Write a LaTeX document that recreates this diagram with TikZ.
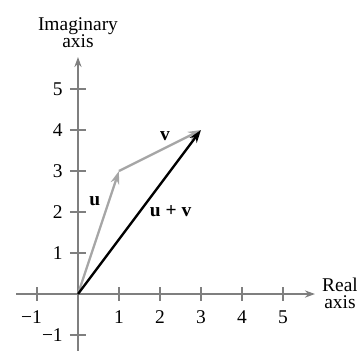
\documentclass[tikz,border=0pt]{standalone}
\usepackage{fontspec}
\setmainfont{Liberation Serif}
\usepackage{xcolor}
\usetikzlibrary{arrows.meta,positioning}
\definecolor{axisgray}{HTML}{7F7F7F}
\definecolor{vecgray}{HTML}{A6A6A6}
\tikzset{
  plane/.style={font=\fontsize{13.5}{14}\selectfont},
  axisline/.style={-{Stealth[length=7pt,width=5pt]}, axisgray, line width=1pt},
  tick/.style={axisgray, line width=1pt},
  vecpart/.style={-{Stealth[length=9pt,width=6pt]}, vecgray, line width=1.6pt},
  vecsum/.style={-{Stealth[length=9pt,width=6pt]}, black, line width=1.6pt},
  lbl/.style={inner sep=1pt, text=black}
}

\begin{document}
\begin{tikzpicture}[plane]
\useasboundingbox (-1.902,-1.366) rectangle (6.805,7.171);
\coordinate (O) at (0,0);
\coordinate (U) at (1,3);
\coordinate (S) at (3,4);
\draw[axisline] (-1.51,0) -- (5.78,0) coordinate (xend);
\draw[axisline] (0,-1.4) -- (0,5.78) coordinate (yend);
\foreach \x/\t in {-1/\llap{−}1,1/1,2/2,3/3,4/4,5/5} {
  \draw[tick] (\x,-0.17) -- (\x,0.17);
  \node[lbl] (xl\x) at (\x,-0.56) {\t};
}
\foreach \y/\t in {-1/−1,1/1,2/2,3/3,4/4,5/5} {
  \draw[tick] (-0.2,\y) -- (0.2,\y);
  \node[lbl, anchor=east] (yl\y) at (-0.33,\y) {\t};
}
\node[align=center, inner sep=0pt] (ylab) at (0,6.38) {Imaginary\\[-2pt]axis};
\node[align=center, inner sep=0pt] (xlab) at (6.39,0.02) {Real\\[-2pt]axis};
\draw[vecpart] (O) -- (U);
\draw[vecpart] (U) -- (S);
\draw[vecsum] (O) -- (S);
\node (ul) at (0.41,2.27) {\textbf{u}};
\node (vl) at (2.12,3.85) {\textbf{v}};
\node (sl) at (2.26,2.02) {\textbf{u + v}};
\end{tikzpicture}
\end{document}
